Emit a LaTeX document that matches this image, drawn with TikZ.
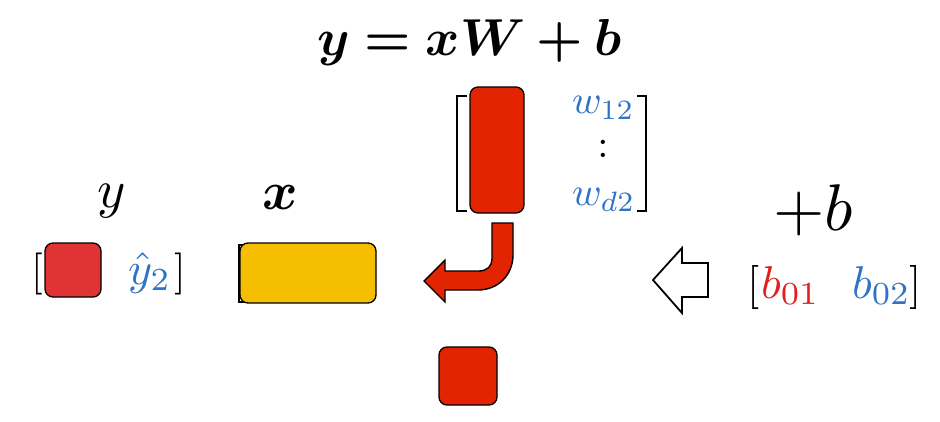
\documentclass[tikz,border=0pt]{standalone}
\usepackage{bm}
\definecolor{redW}{RGB}{227,36,0}
\definecolor{redY}{RGB}{224,52,52}
\definecolor{yel}{RGB}{245,190,0}
\definecolor{blu}{RGB}{46,116,198}
\definecolor{redT}{RGB}{224,32,32}
\tikzset{
  box/.style={draw=black, line width=1.3pt, rounded corners=8pt, inner sep=0pt, outer sep=0pt},
  lbl/.style={inner sep=0pt, outer sep=0pt, anchor=base west},
  brk/.style={line width=1.8pt},
}
\begin{document}
\begin{tikzpicture}[x=1pt,y=-1pt]
\useasboundingbox (0,0) rectangle (940,421);
\fill[white] (0,0) rectangle (940,421);
% title
\node[inner sep=0pt, anchor=base, scale=5.2] (title) at (470,55) {$\bm{y = xW + b}$};
% labels
\node[lbl, scale=5.4] (ylab) at (97,207) {$y$};
\node[lbl, scale=5.4] (xlab) at (262,209) {$\bm{x}$};
\node[lbl, scale=6.6] (plusb) at (773,230) {$+b$};
% y row
\node[lbl, scale=4.2] (ylb) at (31,284) {$[$};
\node[box, fill=redY, minimum width=56pt, minimum height=54pt] (ysq) at (73,270) {};
\node[lbl, text=blu, scale=4.6] (yhat) at (128,284) {$\hat{y}_2$};
\node[lbl, scale=4.2] (yrb) at (174,284) {$]$};
% x row
\draw[brk] (247,245) -- (239,245) -- (239,302) -- (247,302);
\node[box, fill=yel, minimum width=136pt, minimum height=60pt] (xrect) at (308,273) {};
% W matrix
\draw[brk] (467,96) -- (457,96) -- (457,211) -- (467,211);
\draw[brk] (637,96) -- (646,96) -- (646,211) -- (637,211);
\node[box, fill=redW, minimum width=54pt, minimum height=126pt] (wcol) at (497,150) {};
\node[lbl, text=blu, scale=4] (w12) at (572,113) {$w_{12}$};
\node[inner sep=0pt, scale=4] (wdots) at (603,149) {$:$};
\node[lbl, text=blu, scale=4] (wd2) at (572,205) {$w_{d2}$};
% curved arrow
\draw[line width=1.4pt, fill=redW, line join=miter]
  (492,223) -- (513,223) -- (513,255)
  .. controls (513,275) and (498,290) .. (478,290)
  -- (445,290) -- (445,302) -- (424,281) -- (445,260) -- (445,271)
  -- (479,271) .. controls (487,271) and (492,266) .. (492,259) -- cycle;
% result square
\node[box, fill=redW, minimum width=58pt, minimum height=58pt] (res) at (468,376) {};
% hollow arrow
\draw[line width=1.8pt, fill=white, line join=miter]
  (708,263) -- (682,263) -- (682,248) -- (653,280) -- (682,313) -- (682,297) -- (708,297) -- cycle;
% b row
\node[lbl, scale=4.4] (blb) at (747,298) {$[$};
\node[lbl, text=redT, scale=4.6] (b01) at (761,298) {$b_{01}$};
\node[lbl, text=blu, scale=4.6] (b02) at (852,298) {$b_{02}$};
\node[lbl, scale=4.4] (brb) at (909,298) {$]$};
\end{tikzpicture}
\end{document}
